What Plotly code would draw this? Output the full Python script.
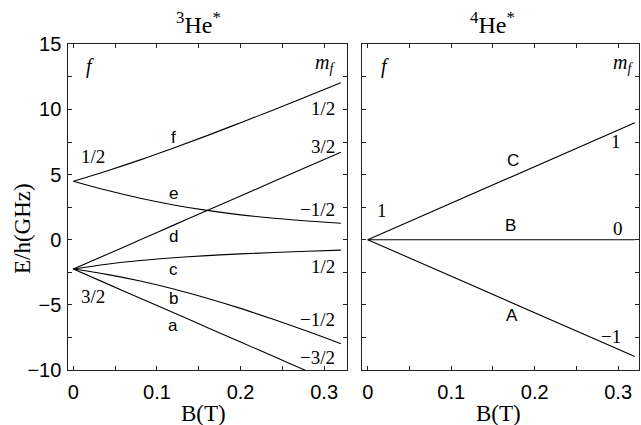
import plotly.graph_objects as go

# ---------------- data ----------------
B3 = [0, 0.04, 0.08, 0.12, 0.16, 0.20, 0.24, 0.28, 0.32]
f_curve = [4.49, 5.28, 6.13, 7.04, 7.99, 8.98, 9.98, 11.01, 12.05]
e_curve = [4.49, 3.79, 3.18, 2.67, 2.25, 1.91, 1.65, 1.44, 1.26]
d_curve = [-2.25, -1.13, -0.01, 1.12, 2.24, 3.36, 4.48, 5.60, 6.72]
c_curve = [-2.25, -1.88, -1.60, -1.39, -1.22, -1.09, -0.98, -0.88, -0.80]
b_curve = [-2.25, -2.66, -3.17, -3.78, -4.49, -5.27, -6.13, -7.03, -7.98]
a_curve = [-2.25, -3.37, -4.49, -5.61, -6.73, -7.85, -8.97, -10.09, -11.21]

B4 = [0, 0.32]
C_line = [0, 8.97]
B_line = [0, 0]
A_line = [0, -8.97]

x_major_step = 0.1
x_minor_step = 0.05
y_major_step = 5
y_minor_step = 2.5

# ---------------- figure ----------------
SERIF = "Liberation Serif"
SANS = "Liberation Sans"
LINE = dict(color="black", width=1.1)

fig = go.Figure()
for y in [f_curve, e_curve, d_curve, c_curve, b_curve, a_curve]:
    fig.add_trace(go.Scatter(x=B3, y=y, mode="lines", line=dict(LINE, shape="spline"),
                             xaxis="x", yaxis="y", showlegend=False, hoverinfo="skip"))
for y in [C_line, B_line, A_line]:
    fig.add_trace(go.Scatter(x=B4, y=y, mode="lines", line=LINE,
                             xaxis="x2", yaxis="y2", showlegend=False, hoverinfo="skip"))

axis_common = dict(showline=True, linecolor="#222", linewidth=1, mirror="ticks",
                   ticks="inside", ticklen=4, tickcolor="#222", tickwidth=1,
                   showgrid=False, zeroline=False, automargin=False,
                   tickfont=dict(family=SANS, size=20, color="black"))
xcommon = dict(axis_common, tick0=0, dtick=x_major_step,
               minor=dict(dtick=x_minor_step, tick0=0, ticks="inside", ticklen=4,
                          tickcolor="#222", showgrid=False))
ycommon = dict(axis_common, tick0=0, dtick=y_major_step,
               minor=dict(dtick=y_minor_step, tick0=0, ticks="inside", ticklen=4,
                          tickcolor="#222", showgrid=False))

fig.update_layout(
    template="none",
    width=641, height=425, autosize=False,
    margin=dict(l=0, r=0, t=0, b=0, pad=0),
    paper_bgcolor="white", plot_bgcolor="white",
    xaxis=dict(xcommon, domain=[0.1066, 0.5409], range=[-0.006, 0.327],
               anchor="y", ticklabelstandoff=4),
    yaxis=dict(ycommon, domain=[0.1294, 0.8958], range=[-10, 15],
               anchor="x", ticklabelstandoff=2),
    xaxis2=dict(xcommon, domain=[0.5652, 0.9973], range=[-0.0065, 0.3253],
                anchor="y2", ticklabelstandoff=4),
    yaxis2=dict(ycommon, domain=[0.1294, 0.8958], range=[-10, 15],
                anchor="x2", showticklabels=False),
)

ann = []


def add(text, x, y, xref, yref, family, size, xanchor="center", angle=0):
    ann.append(dict(text=text, x=x, y=y, xref=xref, yref=yref, showarrow=False,
                    xanchor=xanchor, yanchor="middle", textangle=angle,
                    font=dict(family=family, size=size, color="black")))


# titles and axis titles
add("<sup>3</sup>He<sup>*</sup>", 0.309, 0.946, "paper", "paper", SERIF, 24)
add("<sup>4</sup>He<sup>*</sup>", 0.768, 0.946, "paper", "paper", SERIF, 24)
add("B(T)", 0.318, 0.026, "paper", "paper", SERIF, 23)
add("B(T)", 0.777, 0.026, "paper", "paper", SERIF, 23)
add("E/h(GHz)", 0.034, 0.463, "paper", "paper", SERIF, 23, angle=-90)

# left panel labels
add("<i>f</i>", 0.020, 13.3, "x", "y", SERIF, 20)
add("<i>m</i><sub><i>f</i></sub>", 0.3155, 13.5, "x", "y", SERIF, 20, xanchor="right")
add("1/2", 0.0235, 6.37, "x", "y", SERIF, 19)
add("3/2", 0.0235, -4.37, "x", "y", SERIF, 19)
for t, yv in [("f", 7.88), ("e", 3.51), ("d", 0.21), ("c", -2.25), ("b", -4.55), ("a", -6.62)]:
    add(t, 0.1196, yv, "x", "y", SANS, 17)
for t, yv in [("1/2", 10.08), ("3/2", 7.19), ("\u22121/2", 2.33), ("1/2", -2.02),
              ("\u22121/2", -6.11), ("\u22123/2", -9.05)]:
    add(t, 0.3155, yv, "x", "y", SERIF, 19, xanchor="right")

# right panel labels
add("<i>f</i>", 0.0207, 13.3, "x2", "y2", SERIF, 20)
add("<i>m</i><sub><i>f</i></sub>", 0.320, 13.5, "x2", "y2", SERIF, 20, xanchor="right")
add("1", 0.0168, 2.28, "x2", "y2", SERIF, 19)
add("C", 0.1744, 6.06, "x2", "y2", SANS, 17)
add("B", 0.171, 1.07, "x2", "y2", SANS, 17)
add("A", 0.173, -5.83, "x2", "y2", SANS, 17)
add("1", 0.306, 7.52, "x2", "y2", SERIF, 19, xanchor="right")
add("0", 0.308, 0.87, "x2", "y2", SERIF, 19, xanchor="right")
add("\u22121", 0.306, -7.44, "x2", "y2", SERIF, 19, xanchor="right")

fig.update_layout(annotations=ann)
fig.write_html("out.html", config={"displayModeBar": False},
               post_script="document.body.style.margin='0';")
